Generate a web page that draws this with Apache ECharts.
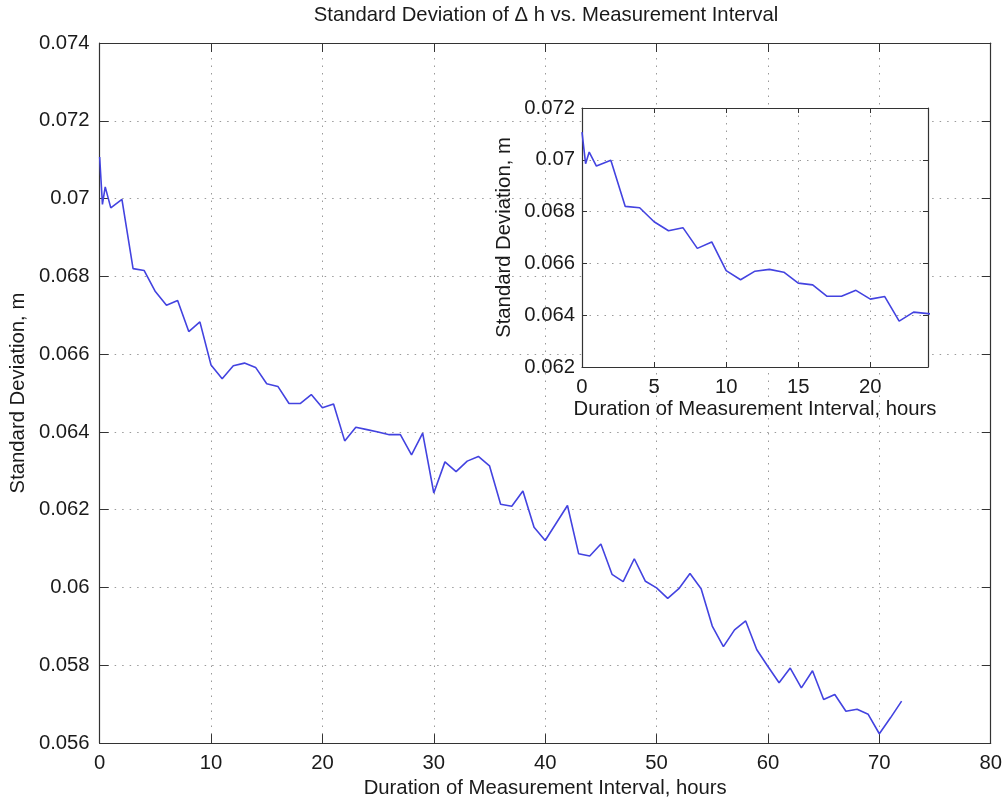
<!DOCTYPE html>
<html lang="en">

<head>
    <meta charset="UTF-8">
    <title>Standard Deviation vs. Measurement Interval</title>
    <style>
        body {
            margin: 0;
            background: #fff;
        }

        #chart {
            width: 1005px;
            height: 803px;
        }
    </style>
</head>

<body>
    <div id="chart"></div>
    <script src="https://cdn.jsdelivr.net/npm/echarts@6/dist/echarts.min.js"></script>
    <script>
        // duration of measurement interval, hours
        const hours = [0, 0.25, 0.5, 1, 2, 3, 4, 5, 6, 7, 8, 9, 10, 11, 12, 13, 14, 15, 16, 17, 18, 19, 20,
            21, 22, 23, 24, 25, 26, 27, 28, 29, 30, 31, 32, 33, 34, 35, 36, 37, 38, 39, 40, 41, 42, 43, 44,
            45, 46, 47, 48, 49, 50, 51, 52, 53, 54, 55, 56, 57, 58, 59, 60, 61, 62, 63, 64, 65, 66, 67, 68,
            69, 70, 71, 72];

        // standard deviation, m
        const stdDev = [0.07107, 0.06985, 0.07030, 0.06976, 0.06998, 0.06820, 0.06815, 0.06761, 0.06726,
            0.06738, 0.06658, 0.06683, 0.06572, 0.06537, 0.06570, 0.06577, 0.06566, 0.06524, 0.06517,
            0.06473, 0.06473, 0.06496, 0.06462, 0.06472, 0.06377, 0.06412, 0.06406, 0.06400, 0.06393,
            0.06393, 0.06341, 0.06397, 0.06243, 0.06323, 0.06298, 0.06325, 0.06337, 0.06313, 0.06214,
            0.06209, 0.06248, 0.06155, 0.06121, 0.06166, 0.06211, 0.06087, 0.06081, 0.06112, 0.06034,
            0.06015, 0.06074, 0.06016, 0.05999, 0.05972, 0.05997, 0.06036, 0.05997, 0.05901, 0.05848,
            0.05891, 0.05914, 0.05840, 0.05797, 0.05755, 0.05793, 0.05742, 0.05786, 0.05712, 0.05725,
            0.05682, 0.05687, 0.05674, 0.05624, 0.05665, 0.05708];

        const title = 'Standard Deviation of \u0394 h vs. Measurement Interval';
        const xName = 'Duration of Measurement Interval, hours';
        const yName = 'Standard Deviation, m';

        const FONT = '"Liberation Sans", Arial, Helvetica, sans-serif';
        const FS = 20.3;
        const INK = '#1a1a1a';
        const AXIS = '#333';
        const LINE = '#4343e0';

        const chart = echarts.init(document.getElementById('chart'));

        const points = hours.map((h, i) => [h, stdDev[i]]);
        const fmtY = v => String(+v.toFixed(3));

        const dotted = { show: true, lineStyle: { color: '#9a9a9a', width: 1, type: [1.5, 6] } };

        function mainAxis(extra) {
            return Object.assign({
                type: 'value',
                axisLine: { show: true, onZero: false, lineStyle: { color: AXIS, width: 1.2 } },
                axisTick: { show: true, inside: true, length: 9, lineStyle: { color: AXIS } },
                axisLabel: { color: INK, fontSize: FS, fontFamily: FONT },
                nameTextStyle: { color: INK, fontSize: FS, fontFamily: FONT },
                nameLocation: 'middle',
            }, extra);
        }

        const option = {
            animation: false,
            backgroundColor: '#fff',
            title: {
                text: title,
                left: 546,
                top: 5,
                textAlign: 'center',
                padding: 0,
                textStyle: { color: INK, fontSize: FS, fontWeight: 'normal', fontFamily: FONT },
            },
            grid: [
                { left: 98, top: 43, width: 893, height: 704 },
                { left: 582, top: 108, width: 346, height: 259, show: true, backgroundColor: '#fff', borderWidth: 0, z: 3 },
            ],
            xAxis: [
                mainAxis({
                    gridIndex: 0, min: 0, max: 80, interval: 10, position: 'bottom',
                    axisLabel: { color: INK, fontSize: FS, fontFamily: FONT, margin: 10 },
                    splitLine: dotted, name: xName, nameGap: 33,
                }),
                mainAxis({
                    gridIndex: 0, min: 0, max: 80, interval: 10, position: 'top',
                    axisLabel: { show: false }, splitLine: { show: false },
                }),
                mainAxis({
                    gridIndex: 1, min: 0, max: 24, interval: 5, position: 'bottom', z: 4,
                    axisTick: { show: true, inside: true, length: 5, lineStyle: { color: AXIS } },
                    axisLabel: { color: INK, fontSize: FS, fontFamily: FONT, margin: 10, showMaxLabel: false },
                    splitLine: dotted, name: xName, nameGap: 32,
                }),
                mainAxis({
                    gridIndex: 1, min: 0, max: 24, interval: 5, position: 'top', z: 4,
                    axisTick: { show: true, inside: true, length: 5, lineStyle: { color: AXIS } },
                    axisLabel: { show: false }, splitLine: { show: false },
                }),
            ],
            yAxis: [
                mainAxis({
                    gridIndex: 0, min: 0.056, max: 0.074, interval: 0.002, position: 'left',
                    axisLabel: { color: INK, fontSize: FS, fontFamily: FONT, margin: 10, formatter: fmtY },
                    splitLine: dotted, name: yName, nameGap: 68,
                }),
                mainAxis({
                    gridIndex: 0, min: 0.056, max: 0.074, interval: 0.002, position: 'right',
                    axisLabel: { show: false }, splitLine: { show: false },
                }),
                mainAxis({
                    gridIndex: 1, min: 0.062, max: 0.072, interval: 0.002, position: 'left', z: 4,
                    axisTick: { show: true, inside: true, length: 5, lineStyle: { color: AXIS } },
                    axisLabel: { color: INK, fontSize: FS, fontFamily: FONT, margin: 7, formatter: fmtY },
                    splitLine: dotted, name: yName, nameGap: 68,
                }),
                mainAxis({
                    gridIndex: 1, min: 0.062, max: 0.072, interval: 0.002, position: 'right', z: 4,
                    axisTick: { show: true, inside: true, length: 5, lineStyle: { color: AXIS } },
                    axisLabel: { show: false }, splitLine: { show: false },
                }),
            ],
            series: [
                {
                    type: 'line', xAxisIndex: 0, yAxisIndex: 0, data: points,
                    showSymbol: false, lineStyle: { color: LINE, width: 1.6 }, z: 2,
                },
                {
                    type: 'line', xAxisIndex: 2, yAxisIndex: 2, data: points, clip: true,
                    showSymbol: false, lineStyle: { color: LINE, width: 1.6 }, z: 5,
                },
            ],
        };

        chart.setOption(option);
    </script>
</body>

</html>
